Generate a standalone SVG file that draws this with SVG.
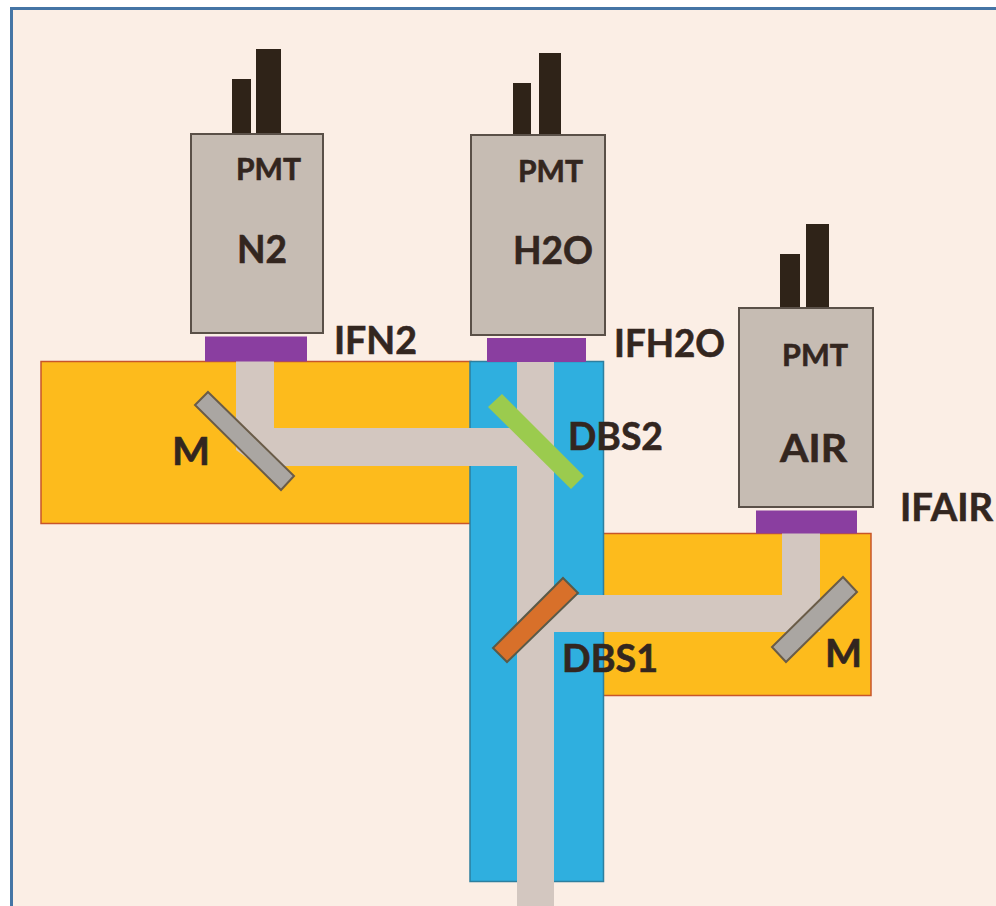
<svg xmlns="http://www.w3.org/2000/svg" width="996" height="906" viewBox="0 0 996 906">
<style>
.box{stroke:#c8552a;stroke-width:1.5}
.pmt{fill:#c6bcb3;stroke:#5a5048;stroke-width:2}
.pin{fill:#2f2318}
.filter{fill:#8a3ea0}
.beam{fill:#d3c7c0}
.mirror{fill:#aaa6a2;stroke:#6a5c48;stroke-width:2}
text{font-family:Lato,"Open Sans",sans-serif;font-weight:700;fill:#33261f;stroke:#33261f;stroke-width:.6}
.big{font-size:38px}
.small{font-size:31px}
</style>
<rect x="0" y="0" width="996" height="906" fill="#ffffff"/>
<rect x="11.500" y="8.500" width="990" height="905" fill="#fbeee5" stroke="#4575a5" stroke-width="3"/>
<g id="housing-n2"><rect class="box" x="41" y="361.500" width="430" height="162" fill="#fdbb1c"/></g>
<g id="housing-air"><rect class="box" x="600" y="533.500" width="271" height="162" fill="#fdbb1c"/></g>
<g id="housing-main"><rect x="470" y="361.500" width="133.500" height="520" fill="#2fafdf" stroke="#2d7f9f" stroke-width="1.500"/></g>
<g id="beams">
<path class="beam" d="M236 361H274V428H517V361H554V906H517V466H258L236 450Z"/>
<path class="beam" d="M782 533H820V632H554V595H782Z"/>
</g>
<g id="pmt-n2">
<rect class="pin" x="232" y="79" width="19" height="55"/>
<rect class="pin" x="256" y="49" width="25" height="85"/>
<rect class="pmt" x="191" y="134" width="132" height="199"/>
<rect class="filter" x="205" y="336.500" width="102" height="25"/>
<text class="small" x="236" y="180" textLength="65" lengthAdjust="spacingAndGlyphs">PMT</text>
<text class="big" x="237" y="263" textLength="50" lengthAdjust="spacingAndGlyphs">N2</text>
</g>
<g id="pmt-h2o">
<rect class="pin" x="513" y="83" width="18" height="52"/>
<rect class="pin" x="539" y="53" width="22" height="82"/>
<rect class="pmt" x="471" y="135" width="134" height="200"/>
<rect class="filter" x="487" y="338" width="99" height="24"/>
<text class="small" x="518" y="182" textLength="65" lengthAdjust="spacingAndGlyphs">PMT</text>
<text class="big" x="513" y="264" textLength="80" lengthAdjust="spacingAndGlyphs">H2O</text>
</g>
<g id="pmt-air">
<rect class="pin" x="780" y="254" width="20" height="54"/>
<rect class="pin" x="806" y="224" width="23" height="84"/>
<rect class="pmt" x="739" y="308" width="134" height="199"/>
<rect class="filter" x="756" y="510.500" width="101" height="23"/>
<text class="small" x="782" y="366" textLength="66" lengthAdjust="spacingAndGlyphs">PMT</text>
<text class="big" x="780" y="462" textLength="67" lengthAdjust="spacingAndGlyphs">AIR</text>
</g>
<g id="mirror-n2"><polygon class="mirror" points="208,392 294,476 281,490 195,405"/></g>
<g id="mirror-air"><polygon class="mirror" points="843,577 857,592 786,662 772,647"/></g>
<g id="dbs2"><polygon points="502,394 584,476 571,489 488,407" fill="#9bcb4e"/></g>
<g id="dbs1"><polygon points="563,578 578,593 507,662 493,648" fill="#d8702a" stroke="#5a5a48" stroke-width="2"/></g>
<g id="labels">
<text class="big" x="334" y="354" textLength="83" lengthAdjust="spacingAndGlyphs">IFN2</text>
<text class="big" x="614" y="357" textLength="111" lengthAdjust="spacingAndGlyphs">IFH2O</text>
<text class="big" x="900" y="521" textLength="93" lengthAdjust="spacingAndGlyphs">IFAIR</text>
<text class="big" x="568" y="450" textLength="95" lengthAdjust="spacingAndGlyphs">DBS2</text>
<text class="big" x="562" y="672" textLength="96" lengthAdjust="spacingAndGlyphs">DBS1</text>
<text class="big" x="172" y="465" textLength="38" lengthAdjust="spacingAndGlyphs">M</text>
<text class="big" x="825" y="667" textLength="37" lengthAdjust="spacingAndGlyphs">M</text>
</g>
</svg>
